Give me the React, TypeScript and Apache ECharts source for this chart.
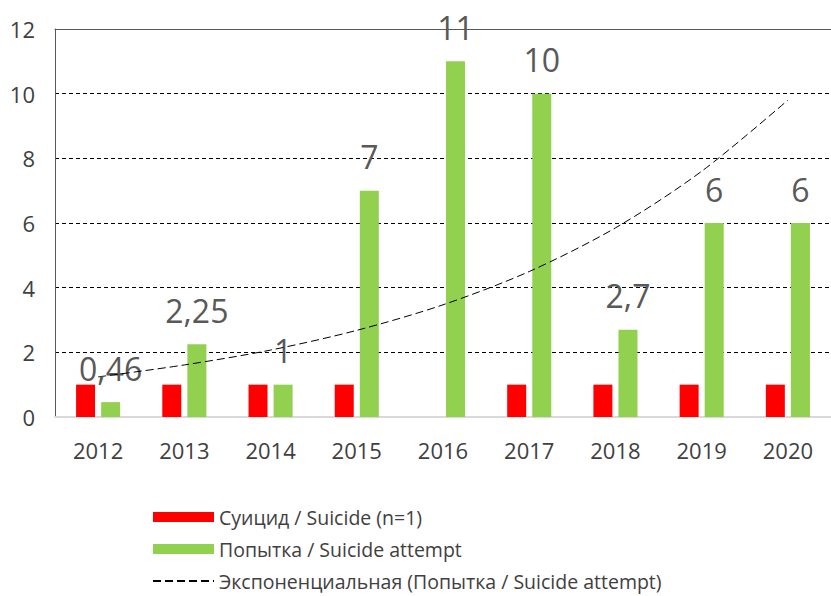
import React, { useEffect, useRef } from "react";
import * as echarts from "echarts";

const years = ["2012", "2013", "2014", "2015", "2016", "2017", "2018", "2019", "2020"];
const suicideValues = [1, 1, 1, 1, null, 1, 1, 1, 1];
const attemptValues = [0.46, 2.25, 1, 7, 11, 10, 2.7, 6, 6];
const trendValues = [1.24, 1.61, 2.07, 2.68, 3.47, 4.5, 5.85, 7.6, 9.8];
const yTicks = { min: 0, max: 12, interval: 2 };

const FONT = "Open Sans";

export default function App() {
  const ref = useRef<HTMLDivElement>(null);
  useEffect(() => {
    if (!ref.current) return;
    const chart = echarts.init(ref.current, null, { renderer: "svg" });
    chart.setOption({
      animation: false,
      backgroundColor: "#ffffff",
      textStyle: { fontFamily: FONT },
      grid: { left: 55, top: 29, right: -7, bottom: 179, containLabel: false },
      legend: {
        orient: "vertical",
        left: 147,
        top: 502,
        height: 130,
        itemWidth: 61,
        itemHeight: 10,
        itemGap: 12,
        textStyle: { fontSize: 19.5, color: "#404040", fontFamily: FONT },
        data: [
          { name: "Суицид / Suicide (n=1)", icon: "rect" },
          { name: "Попытка / Suicide attempt", icon: "rect" },
          {
            name: "Экспоненциальная (Попытка / Suicide attempt)",
            itemStyle: { opacity: 0, color: "rgba(0,0,0,0)", borderWidth: 0 },
          },
        ],
      },
      xAxis: [
        {
          type: "category",
          data: years,
          axisLine: { lineStyle: { color: "#D9D9D9", width: 2 } },
          axisTick: { show: false },
          axisLabel: { fontSize: 22, color: "#404040", fontFamily: FONT, margin: 22 },
        },
        {
          type: "category",
          data: years,
          position: "top",
          axisLine: { show: true, lineStyle: { color: "#595959", width: 1 } },
          axisTick: { show: false },
          axisLabel: { show: false },
        },
      ],
      yAxis: {
        type: "value",
        min: yTicks.min,
        max: yTicks.max,
        interval: yTicks.interval,
        axisLine: { show: true, lineStyle: { color: "#595959", width: 1 } },
        axisTick: { show: false },
        axisLabel: { fontSize: 22, color: "#404040", fontFamily: FONT, margin: 20 },
        splitLine: {
          show: true,
          showMinLine: false,
          showMaxLine: false,
          lineStyle: { color: "#000000", type: [4, 3], width: 1 },
        },
      },
      series: [
        {
          name: "Суицид / Suicide (n=1)",
          type: "bar",
          data: suicideValues,
          barWidth: 19,
          barGap: "32%",
          itemStyle: { color: "#FF0000" },
        },
        {
          name: "Попытка / Suicide attempt",
          type: "bar",
          data: attemptValues,
          barWidth: 19,
          barGap: "32%",
          itemStyle: { color: "#92D050" },
          label: {
            show: true,
            position: "top",
            distance: 18,
            fontSize: 32,
            color: "#595959",
            fontFamily: FONT,
            formatter: (p: any) => String(p.value).replace(".", ","),
          },
        },
        {
          name: "Экспоненциальная (Попытка / Suicide attempt)",
          type: "line",
          data: trendValues,
          smooth: 0.3,
          symbol: "none",
          z: 5,
          lineStyle: { color: "#000000", width: 1, type: [8, 4] },
          itemStyle: { color: "#000000" },
        },
      ],
    });
    return () => chart.dispose();
  }, []);
  return (
    <div
      ref={ref}
      style={{ position: "fixed", left: 0, top: 0, width: 831, height: 596, background: "#fff" }}
    />
  );
}
